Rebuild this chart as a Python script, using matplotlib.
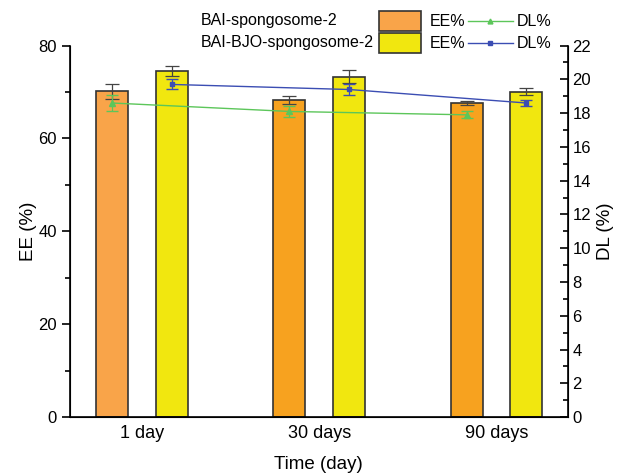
import numpy as np
import matplotlib.pyplot as plt
from matplotlib.patches import Rectangle
from matplotlib.lines import Line2D

plt.rcParams['font.family'] = ['Liberation Sans', 'DejaVu Sans']

#data
times = ['1 day', '30 days', '90 days']
ee_bai = [70.2, 68.3, 67.6]
ee_bai_err = [1.6, 0.8, 0.4]
ee_bjo = [74.6, 73.3, 70.1]
ee_bjo_err = [1.1, 1.4, 0.8]
dl_bai = [18.6, 18.1, 17.9]
dl_bai_err = [0.45, 0.3, 0.2]
dl_bjo = [19.7, 19.4, 18.6]
dl_bjo_err = [0.3, 0.35, 0.2]

orange_cols = ['#F9A449', '#F7A21F', '#F7A21F']
yellow = '#F1E70F'
green = '#5CC65A'
blue = '#3B4DB3'

x = np.arange(len(times))
w = 0.18
off = 0.168

fig = plt.figure(figsize=(6.22, 4.75), dpi=100)
ax = fig.add_axes([0.1125, 0.122, 0.8, 0.782])

ax.bar(x - off, ee_bai, w, color=orange_cols, edgecolor='#333333', linewidth=1.2,
       yerr=ee_bai_err, capsize=5, error_kw=dict(ecolor='#444444', elinewidth=0.9, capthick=0.9))
ax.bar(x + off, ee_bjo, w, color=yellow, edgecolor='#333333', linewidth=1.2,
       yerr=ee_bjo_err, capsize=5, error_kw=dict(ecolor='#444444', elinewidth=0.9, capthick=0.9))

ax.set_xlim(-0.405, 2.4)
ax.set_ylim(0, 80)
ax.set_yticks([0, 20, 40, 60, 80])
ax.set_yticks([10, 30, 50, 70], minor=True)
ax.set_xticks(x)
ax.set_xticklabels(times, fontsize=13)
ax.tick_params(axis='x', length=0, pad=6)
ax.tick_params(axis='y', which='major', direction='out', length=6, width=1.2, labelsize=12)
ax.tick_params(axis='y', which='minor', direction='out', length=3.5, width=1.2)
ax.set_ylabel('EE (%)', fontsize=13.5, labelpad=1)
ax.set_xlabel('Time (day)', fontsize=13.5, labelpad=10)
ax.spines['top'].set_visible(False)
for s in ['left', 'bottom']:
    ax.spines[s].set_linewidth(1.2)

ax2 = ax.twinx()
ax2.errorbar(x - off, dl_bai, yerr=dl_bai_err, color=green, marker='^', markersize=4.5,
             linewidth=1, capsize=4, elinewidth=0.9)
ax2.errorbar(x + off, dl_bjo, yerr=dl_bjo_err, color=blue, marker='s', markersize=3.5,
             linewidth=1, capsize=4, elinewidth=0.9)
ax2.set_ylim(0, 22)
ax2.set_yticks(np.arange(0, 23, 2))
ax2.set_yticks(np.arange(1, 23, 2), minor=True)
ax2.tick_params(axis='y', which='major', direction='in', length=6, width=1.2, labelsize=12)
ax2.tick_params(axis='y', which='minor', direction='in', length=3.5, width=1.2)
ax2.set_ylabel('DL (%)', fontsize=13.5)
ax2.spines['top'].set_visible(False)
ax2.spines['right'].set_linewidth(1.2)
ax2.set_xlim(-0.405, 2.4)

#legend drawn by hand
W, H = 622, 475
rows = [('BAI-spongosome-2', orange_cols[0], green, '^', 21),
        ('BAI-BJO-spongosome-2', yellow, blue, 's', 43)]
for name, fc, lc, mk, yc in rows:
    fy = 1 - yc / H
    fig.text(201 / W, fy, name, fontsize=11.5, va='center', ha='left')
    fig.patches.append(Rectangle((379 / W, 1 - (yc + 10) / H), 42 / W, 20 / H,
                                 transform=fig.transFigure, facecolor=fc,
                                 edgecolor='#333333', linewidth=1.2))
    fig.text(430 / W, fy, 'EE%', fontsize=11.5, va='center', ha='left')
    fig.lines.append(Line2D([468 / W, 513 / W], [fy, fy], transform=fig.transFigure,
                            color=lc, linewidth=1))
    fig.lines.append(Line2D([490.5 / W], [fy], transform=fig.transFigure, color=lc,
                            marker=mk, markersize=3.5))
    fig.text(517 / W, fy, 'DL%', fontsize=11.5, va='center', ha='left')

plt.savefig('out.png', dpi=100)
